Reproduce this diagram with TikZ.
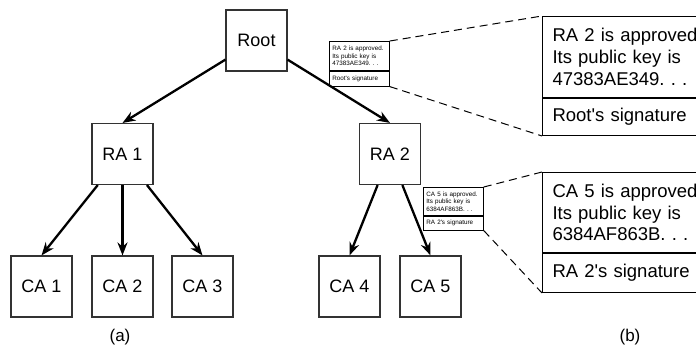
\documentclass[tikz,border=0pt]{standalone}
\usepackage{fontspec}
\setmainfont{Liberation Sans}
\usetikzlibrary{arrows.meta, positioning}
\definecolor{BoxGray}{HTML}{333333}

\begin{document}
\begin{tikzpicture}[
    x=1pt, y=-1pt,
    >={Stealth[length=13pt,width=10pt]},
    authority/.style={
        draw=BoxGray,
        line width=1.1pt,
        minimum size=61pt,
        inner sep=0pt,
        font=\fontsize{18}{21}\selectfont
    },
    link/.style={
        draw=black,
        line width=2.3pt,
        ->
    },
    certbig/.style={
        draw=black,
        line width=1pt,
        anchor=north west,
        text width=150pt,
        inner xsep=10pt,
        inner ysep=0pt,
        align=left,
        font=\fontsize{18.5}{21.7}\selectfont
    },
    certsmall/.style={
        draw=black,
        line width=0.8pt,
        anchor=north west,
        text width=54pt,
        inner xsep=3pt,
        inner ysep=0pt,
        align=left,
        font=\fontsize{6.3}{7.4}\selectfont
    },
    zoomline/.style={
        draw=black,
        line width=1pt,
        dash pattern=on 8pt off 5pt
    },
    caption/.style={
        font=\fontsize{17}{20}\selectfont
    }
]
\useasboundingbox (0,0) rectangle (696,352);

% Hierarchy
\node[authority] (Root) at (256.5,40.5) {Root};

\node[authority] (RA1) at (122.5,154) {RA 1};
\node[authority] (RA2) at (390,154) {RA 2};

\node[authority] (CA1) at (41.5,286.5) {CA 1};
\node[authority] (CA2) at (122.5,286.5) {CA 2};
\node[authority] (CA3) at (202.5,286.5) {CA 3};
\node[authority] (CA4) at (349.5,286.5) {CA 4};
\node[authority] (CA5) at (430.5,286.5) {CA 5};

% Arrows
\draw[link] (Root) -- (RA1.north);
\draw[link] (Root) -- (RA2.north);
\draw[link] (RA1) -- (CA1.north);
\draw[link] (RA1) -- (CA2.north);
\draw[link] (RA1) -- (CA3.north);
\draw[link] (RA2) -- (CA4.north);
\draw[link] (RA2) -- (CA5.north);

% Small certificates
\node[certsmall, minimum height=29pt] (smallA) at (329,41)
    {RA 2 is approved.\\Its public key is\\47383AE349.\ .\ .};
\node[certsmall, minimum height=15pt] (smallAsig) at (smallA.south west)
    {Root\textquotesingle s signature};

\node[certsmall, minimum height=28pt] (smallB) at (423,187)
    {CA 5 is approved.\\Its public key is\\6384AF863B.\ .\ .};
\node[certsmall, minimum height=14pt] (smallBsig) at (smallB.south west)
    {RA 2\textquotesingle s signature};

% Enlarged certificates
\node[certbig, minimum height=81pt] (bigA) at (542,16)
    {RA 2 is approved\\Its public key is\\47383AE349.\ .\ .};
\node[certbig, minimum height=37pt] (bigAsig) at (bigA.south west)
    {Root\textquotesingle s signature};

\node[certbig, minimum height=80pt] (bigB) at (542,172)
    {CA 5 is approved\\Its public key is\\6384AF863B.\ .\ .};
\node[certbig, minimum height=39pt] (bigBsig) at (bigB.south west)
    {RA 2\textquotesingle s signature};

% Zoom lines
\draw[zoomline] (smallA.north east) -- (bigA.north west);
\draw[zoomline] (smallAsig.south east) -- (bigAsig.south west);
\draw[zoomline] (smallB.north east) -- (bigB.north west);
\draw[zoomline] (smallBsig.south east) -- (bigBsig.south west);

% Captions
\node[caption] (capA) at (120,337) {(a)};
\node[caption] (capB) at (630,337) {(b)};

\end{tikzpicture}
\end{document}
